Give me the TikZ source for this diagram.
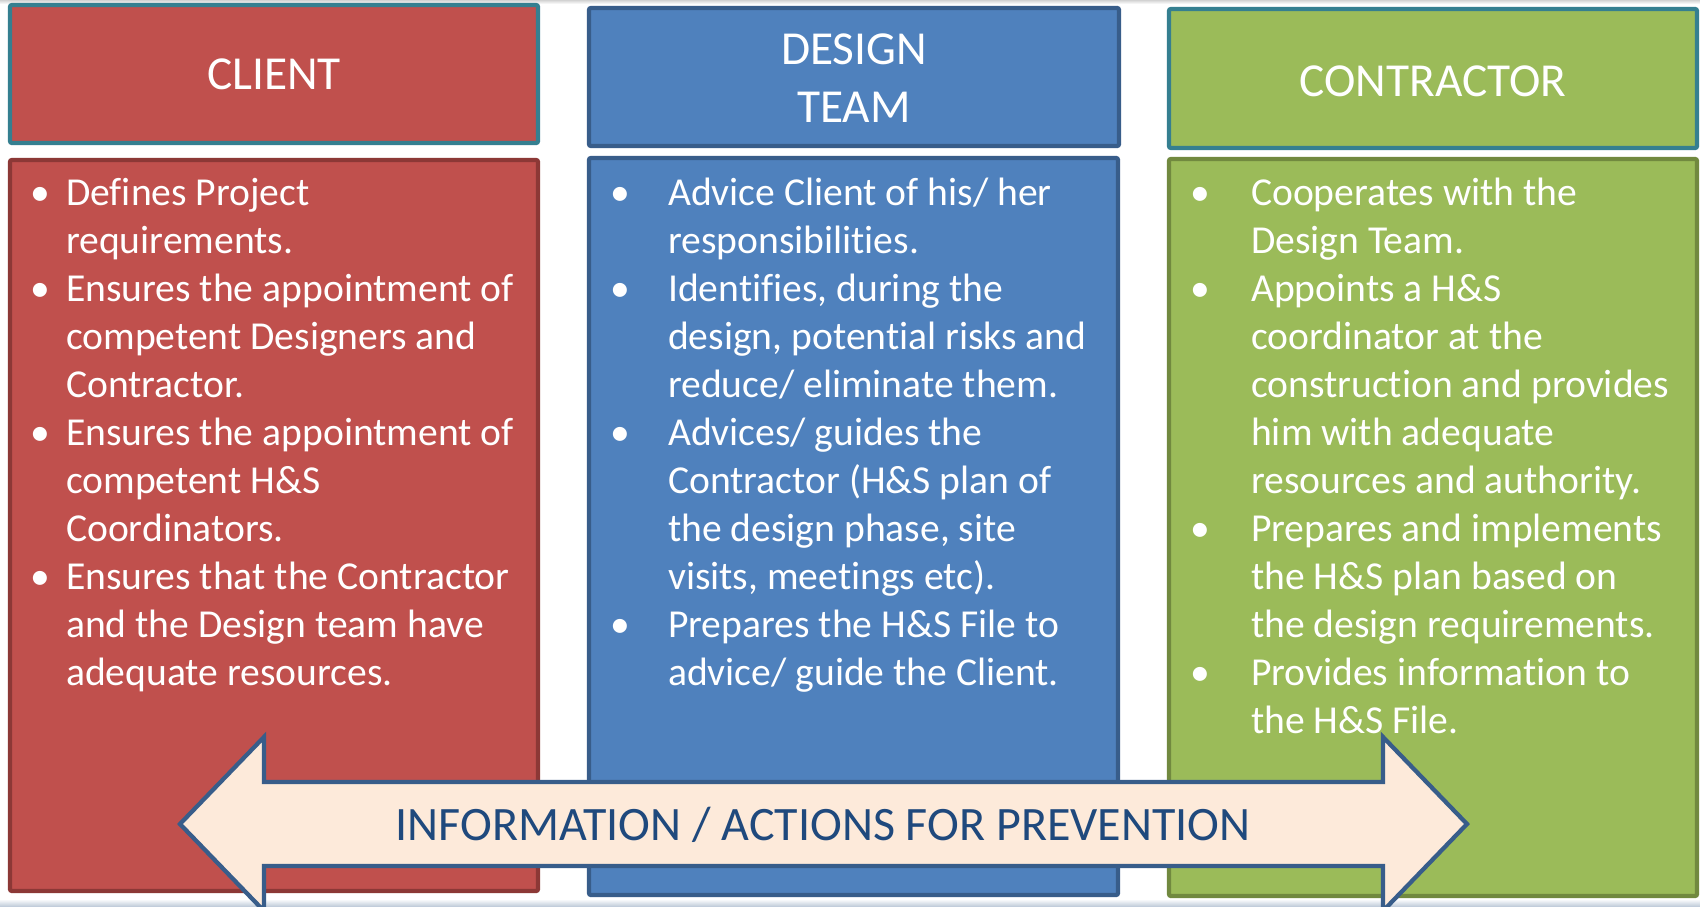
\documentclass[tikz,border=0pt]{standalone}
\usepackage{fontspec}
\setmainfont[Ligatures=CommonOff]{Carlito}

\definecolor{clientred}{HTML}{C0504D}
\definecolor{clientedge}{HTML}{8C3836}
\definecolor{headedge}{HTML}{357F90}
\definecolor{designblue}{HTML}{4F81BD}
\definecolor{designedge}{HTML}{385D8A}
\definecolor{contrgreen}{HTML}{9BBB59}
\definecolor{contredge}{HTML}{71893F}
\definecolor{arrowfill}{HTML}{FDEADA}
\definecolor{arrowtext}{HTML}{1F497D}

\tikzset{
	bullet gap/.store in=\bGap,
	bullet gap = 27pt}
\tikzset{every picture/.style={line width=3.2pt}}
\tikzset{
	headbox/.style={draw=headedge, rounded corners=1.5pt},
	bodybox/.style={rounded corners=1.5pt},
	headtext/.style={text=white, align=center, inner sep=0pt, font=\fontsize{35.5}{43.5}\selectfont},
	bodytext/.style={text=white, align=left, anchor=base west, inner sep=0pt, font=\fontsize{29.7}{36}\selectfont},
	arrowline/.style={draw=designedge, fill=arrowfill, line join=miter}}
\newcommand{\bitem}{\makebox[\bGap][l]{\textbullet}}
\newcommand{\bcont}{\hspace*{\bGap}}

\begin{document}
\begin{tikzpicture}[x=0.75pt,y=0.75pt,yscale=-1,xscale=1]
	\useasboundingbox (0,0) rectangle (1700,907);
	\fill [white] (0,0) rectangle (1700,907);
	%Shape: top and bottom edge shading
	\shade [top color=gray!35, bottom color=white] (0,0) rectangle (1700,4);
	\shade [top color=white, bottom color=designedge!35] (0,899) rectangle (1700,907);

	%Shape: Rectangle [client header]
	\draw [headbox, fill=clientred] (10,5) rectangle (538,143);
	%Shape: Rectangle [design header]
	\draw [headbox, fill=designblue, draw=designedge] (589,8) rectangle (1119,146);
	%Shape: Rectangle [contractor header]
	\draw [headbox, fill=contrgreen] (1169,9) rectangle (1697,148);

	%Shape: Rectangle [client body]
	\draw [bodybox, fill=clientred, draw=clientedge] (10,160) rectangle (538,891);
	%Shape: Rectangle [design body]
	\draw [bodybox, fill=designblue, draw=designedge] (589,158) rectangle (1118,895);
	%Shape: Rectangle [contractor body]
	\draw [bodybox, fill=contrgreen, draw=contredge] (1169,159) rectangle (1697,896);

	% Text Node
	\node [headtext] (clientT) at (274,74.5) {CLIENT};
	% Text Node
	\node [headtext] (designT) at (854,78.5) {DESIGN\\TEAM};
	% Text Node
	\node [headtext] (contrT) at (1433,81.5) {CONTRACTOR};

	% Text Node (anchored at the last baseline)
	\node [bodytext, bullet gap=27pt] (clientL) at (28,685) {\bitem Defines Project\\
		\bcont requirements.\\
		\bitem Ensures the appointment of\\
		\bcont competent Designers and\\
		\bcont Contractor.\\
		\bitem Ensures the appointment of\\
		\bcont competent H\&S\\
		\bcont Coordinators.\\
		\bitem Ensures that the Contractor\\
		\bcont and the Design team have\\
		\bcont adequate resources.};
	% Text Node
	\node [bodytext, bullet gap=43.5pt] (designL) at (608,685) {\bitem Advice Client of his/ her\\
		\bcont responsibilities.\\
		\bitem Identifies, during the\\
		\bcont design, potential risks and\\
		\bcont reduce/ eliminate them.\\
		\bitem Advices/ guides the\\
		\bcont Contractor (H\&S plan of\\
		\bcont the design phase, site\\
		\bcont visits, meetings etc).\\
		\bitem Prepares the H\&S File to\\
		\bcont advice/ guide the Client.};
	% Text Node
	\node [bodytext, bullet gap=45.75pt] (contrL) at (1188,733) {\bitem Cooperates with the\\
		\bcont Design Team.\\
		\bitem Appoints a H\&S\\
		\bcont coordinator at the\\
		\bcont construction and provides\\
		\bcont him with adequate\\
		\bcont resources and authority.\\
		\bitem Prepares and implements\\
		\bcont the H\&S plan based on\\
		\bcont the design requirements.\\
		\bitem Provides information to\\
		\bcont the H\&S File.};

	%Shape: Left-Right Arrow
	\draw [arrowline] (180,824) -- (264,737) -- (264,782) -- (1383,782) -- (1383,737) -- (1467,824) -- (1383,911) -- (1383,866) -- (264,866) -- (264,911) -- cycle;
	% Text Node
	\node [headtext, text=arrowtext, font=\fontsize{36}{43.5}\selectfont] (infoT) at (823,824.5) {INFORMATION / ACTIONS FOR PREVENTION};

\end{tikzpicture}
\end{document}
